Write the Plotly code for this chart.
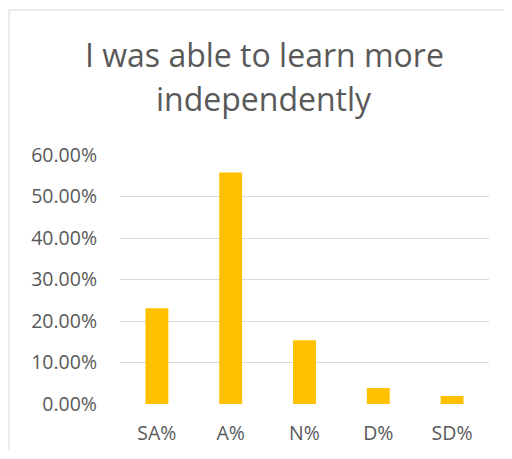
import plotly.graph_objects as go

categories = ["SA%", "A%", "N%", "D%", "SD%"]
values = [0.2308, 0.5577, 0.1538, 0.0385, 0.0192]
tick_vals = [0, 0.1, 0.2, 0.3, 0.4, 0.5, 0.6]
tick_text = ["0.00%", "10.00%", "20.00%", "30.00%", "40.00%", "50.00%", "60.00%"]
title_lines = ["I was able to learn more", "independently"]

W, H = 496, 443
L, R, T, B = 112, 15, 147, 47
pw, ph = W - L - R, H - T - B

def px_x(x):
    return (x - L) / pw

def px_y(y):
    return (H - B - y) / ph

border = dict(color="#D9D9D9", width=1)
fig = go.Figure(go.Bar(x=categories, y=values, marker=dict(color="#FFC000", line=dict(width=0)),
                       width=0.31))
fig.update_layout(
    width=W, height=H,
    margin=dict(l=L, r=R, t=T, b=B, autoexpand=False),
    paper_bgcolor="white", plot_bgcolor="white",
    font=dict(family="Open Sans", color="#595959"),
    showlegend=False,
    xaxis=dict(showgrid=False, showline=False, ticks="", tickfont=dict(size=19.5, color="#595959"),
               ticklabelstandoff=15),
    yaxis=dict(range=[0, 0.6], tickvals=tick_vals, ticktext=tick_text, showgrid=True,
               gridcolor="#D9D9D9", gridwidth=1.3, zeroline=False, showline=False, ticks="",
               tickfont=dict(size=19.5, color="#595959"), ticklabelstandoff=22),
    shapes=[
        dict(type="line", xref="paper", yref="paper", x0=px_x(1), x1=px_x(W), y0=px_y(2), y1=px_y(2),
             line=border, layer="below"),
        dict(type="line", xref="paper", yref="paper", x0=px_x(1), x1=px_x(1), y0=px_y(2), y1=px_y(H),
             line=border, layer="below"),
    ],
    annotations=[
        dict(text=title_lines[0], xref="paper", yref="paper", x=px_x(256), y=px_y(47),
             xanchor="center", yanchor="middle", showarrow=False,
             font=dict(size=32, color="#595959", family="Open Sans")),
        dict(text=title_lines[1], xref="paper", yref="paper", x=px_x(256), y=px_y(90),
             xanchor="center", yanchor="middle", showarrow=False,
             font=dict(size=32, color="#595959", family="Open Sans")),
    ],
)
fig.write_html("out.html")
